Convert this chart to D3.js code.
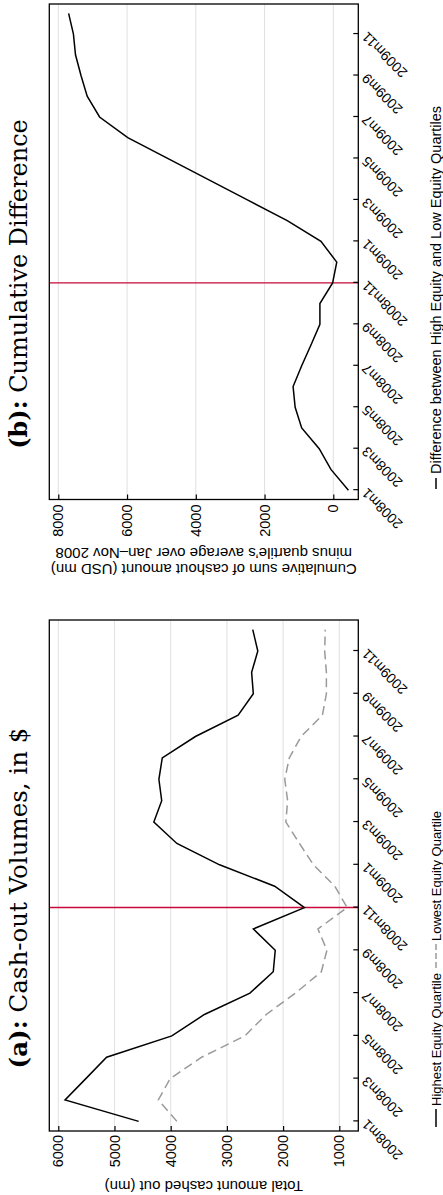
<!DOCTYPE html>
<html><head><meta charset="utf-8">
<script src="https://cdn.jsdelivr.net/npm/d3@7"></script>
<style>body{margin:0;background:#fff}svg{display:block}</style>
</head><body>
<script>
// ---------- data ----------
const months = ["2008m1","2008m2","2008m3","2008m4","2008m5","2008m6","2008m7","2008m8","2008m9","2008m10","2008m11","2008m12",
                "2009m1","2009m2","2009m3","2009m4","2009m5","2009m6","2009m7","2009m8","2009m9","2009m10","2009m11","2009m12"];
const tickMonths = ["2008m1","2008m3","2008m5","2008m7","2008m9","2008m11","2009m1","2009m3","2009m5","2009m7","2009m9","2009m11"];
const highEquity = [4570,5880,5510,5140,3980,3400,2590,2175,2140,2530,1620,2150,3130,3890,4300,4160,4210,4150,3560,2800,2530,2560,2450,2540];
const lowEquity  = [3890,4220,4010,3450,2680,2300,1780,1320,1220,1380,860,1080,1460,1710,1950,1920,1970,1890,1680,1300,1230,1230,1260,1250];
const cumDiff    = [-440,70,410,920,1110,1170,920,650,390,390,20,-100,360,1340,2500,3660,4820,5980,6800,7160,7340,7500,7560,7700];
const eventMonth = "2008m11";
const yTicksA = [1000,2000,3000,4000,5000,6000];
const yTicksB = [0,2000,4000,6000,8000];
const titleA = ["(a):", " Cash-out Volumes, in $"];
const titleB = ["(b):", " Cumulative Difference"];
const yTitleA = ["Total amount cashed out (mn)"];
const yTitleB = ["Cumulative sum of cashout amount (USD mn)", "minus quartile\u2019s average over Jan\u2013Nov 2008"];
const legendA = ["Highest Equity Quartile", "Lowest Equity Quartile"];
const legendB = ["Difference between High Equity and Low Equity Quartiles"];

// ---------- layout (landscape, then rotated) ----------
const SW = 443, SH = 1195;
const sans = "'Liberation Sans', Arial, Helvetica, sans-serif";
const serif = "'DejaVu Serif', serif";
const svg = d3.select("body").append("svg").attr("width", SW).attr("height", SH);
svg.append("rect").attr("width", SW).attr("height", SH).attr("fill", "#fff");
const root = svg.append("g").attr("transform", `translate(0,${SH}) rotate(-90)`);

const fy0 = 49.3, fy1 = 358.3;
function panel(opts) {
  const g = root.append("g");
  const x = d3.scaleLinear().domain([-0.45, months.length - 1 + 0.45]).range([opts.x0, opts.x1]);
  const y = d3.scaleLinear().domain(opts.yDomain).range([fy1, fy0]);
  // grid
  g.append("g").selectAll("line").data(opts.yTicks).join("line")
    .attr("x1", opts.x0).attr("x2", opts.x1).attr("y1", d => y(d)).attr("y2", d => y(d))
    .attr("stroke", "#e2e2e2").attr("stroke-width", 1.1);
  // event line
  const ev = months.indexOf(eventMonth);
  g.append("line").attr("x1", x(ev)).attr("x2", x(ev)).attr("y1", fy0).attr("y2", fy1)
    .attr("stroke", "#c8083a").attr("stroke-width", 1.4);
  // series
  opts.series.forEach(s => {
    g.append("path").datum(s.values)
      .attr("d", d3.line().x((d, i) => x(i)).y(d => y(d)))
      .attr("fill", "none").attr("stroke", s.color).attr("stroke-width", s.width)
      .attr("stroke-dasharray", s.dash || null).attr("stroke-linejoin", "miter");
  });
  // left (value) axis
  const ya = g.append("g").attr("transform", `translate(${opts.x0},0)`)
    .call(d3.axisLeft(y).tickValues(opts.yTicks).tickFormat(d3.format("d"))
      .tickSizeInner(-5).tickSizeOuter(0).tickPadding(opts.yPad));
  ya.select(".domain").remove();
  ya.selectAll("line").attr("stroke", "#000").attr("stroke-width", 1.2);
  ya.selectAll("text").attr("font-family", sans).attr("font-size", 14.5).attr("fill", "#000");
  // bottom (time) axis
  const xa = g.append("g").attr("transform", `translate(0,${fy1})`)
    .call(d3.axisBottom(x).tickValues(tickMonths.map(m => months.indexOf(m)))
      .tickFormat(i => months[i]).tickSizeInner(-5).tickSizeOuter(0));
  xa.select(".domain").remove();
  xa.selectAll("line").attr("stroke", "#000").attr("stroke-width", 1.2);
  xa.selectAll("text").attr("font-family", sans).attr("font-size", 14).attr("fill", "#000")
    .attr("text-anchor", "end").attr("y", 0).attr("dy", "0.35em")
    .attr("transform", "translate(-1,6) rotate(-45)");
  // frame
  g.append("rect").attr("x", opts.x0).attr("y", fy0).attr("width", opts.x1 - opts.x0).attr("height", fy1 - fy0)
    .attr("fill", "none").attr("stroke", "#000").attr("stroke-width", 1.3);
  // title
  const t = g.append("text").attr("x", opts.titleX).attr("y", 27).attr("text-anchor", "middle")
    .attr("font-family", serif).attr("font-size", opts.titleFs).attr("fill", "#000");
  t.append("tspan").attr("font-weight", "bold").text(opts.title[0]);
  t.append("tspan").text(opts.title[1]);
  // y title
  const yt = g.append("text").attr("transform", `translate(${opts.yTitleX},${(fy0 + fy1) / 2}) rotate(-90)`)
    .attr("text-anchor", "middle").attr("font-family", sans).attr("font-size", 15).attr("fill", "#000");
  opts.yTitle.forEach((s, i) => yt.append("tspan").attr("x", 0).attr("dy", i === 0 ? 0 : 16.5).text(s));
  // legend
  opts.legend.forEach(L => {
    g.append("line").attr("x1", L.k0).attr("x2", L.k1).attr("y1", 436).attr("y2", 436)
      .attr("stroke", L.color).attr("stroke-width", L.width).attr("stroke-dasharray", L.dash || null);
    g.append("text").attr("x", L.tx).attr("y", 440.5).attr("font-family", sans).attr("font-size", L.fs)
      .attr("fill", "#000").text(L.label);
  });
  return g;
}

panel({
  x0: 64, x1: 575, yDomain: [662, 6160], yTicks: yTicksA, yPad: 4,
  series: [
    { values: lowEquity, color: "#9a9a9a", width: 1.5, dash: "9,5" },
    { values: highEquity, color: "#000", width: 1.5 }
  ],
  title: titleA, titleX: 297, titleFs: 24.5, yTitle: yTitleA, yTitleX: 14,
  legend: [
    { k0: 68, k1: 86, color: "#000", width: 1.5, tx: 89, label: legendA[0], fs: 13 },
    { k0: 227, k1: 251, color: "#9a9a9a", width: 1.5, dash: "6,3", tx: 254, label: legendA[1], fs: 13 }
  ]
});
panel({
  x0: 695.5, x1: 1191, yDomain: [-727, 8262], yTicks: yTicksB, yPad: 5,
  series: [ { values: cumDiff, color: "#000", width: 1.5 } ],
  title: titleB, titleX: 911, titleFs: 24, yTitle: yTitleB, yTitleX: 631,
  legend: [
    { k0: 706, k1: 717, color: "#000", width: 1.5, tx: 721, label: legendB[0], fs: 14.5 }
  ]
});
</script>
</body></html>
